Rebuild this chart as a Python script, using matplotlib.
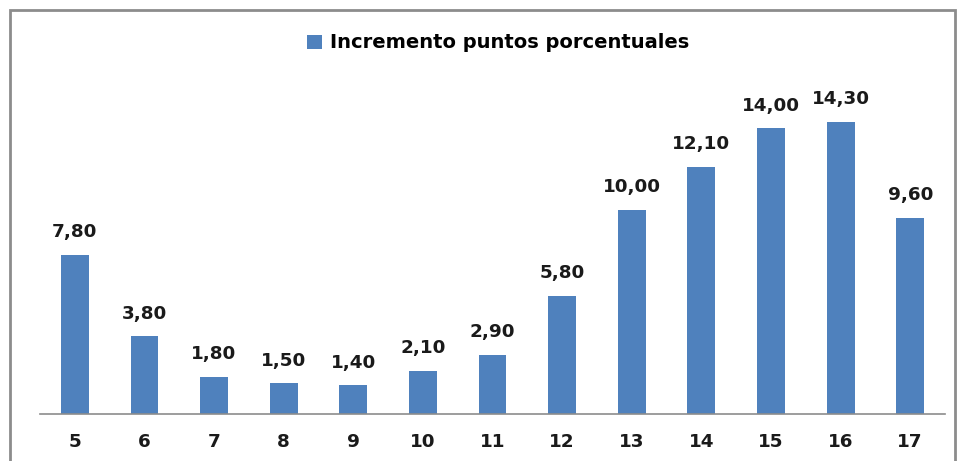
import matplotlib
matplotlib.use("Agg")
import matplotlib.pyplot as plt
from matplotlib.patches import Rectangle

categories = ["5", "6", "7", "8", "9", "10", "11", "12", "13", "14", "15", "16", "17"]
values = [7.80, 3.80, 1.80, 1.50, 1.40, 2.10, 2.90, 5.80, 10.00, 12.10, 14.00, 14.30, 9.60]
series_name = "Incremento puntos porcentuales"

W, H = 958, 461
fig = plt.figure(figsize=(W / 100, H / 100), dpi=100)
fig.patch.set_facecolor("white")

# outer frame (bottom cut off)
frame = Rectangle((10 / W, -0.05), (955 - 10) / W, (H - 10) / H + 0.05,
                  transform=fig.transFigure, fill=False, edgecolor="#8c8c8c",
                  linewidth=2, zorder=0)
fig.patches.append(frame)

ax = fig.add_axes([40 / W, (H - 414) / H, 905 / W, (414 - 40) / H])
x = list(range(len(categories)))
bars = ax.bar(x, values, width=0.40, color="#4F81BD", label=series_name, zorder=2)

ax.set_xlim(-0.5, 12.5)
ax.set_ylim(0, (414 - 40) / 20.4)

for xi, v in zip(x, values):
    ax.annotate(f"{v:.2f}".replace(".", ","), (xi, v), xytext=(0, 10),
                textcoords="offset points", ha="center", va="bottom",
                fontsize=13.2, fontweight="bold", color="#1a1a1a")

ax.set_xticks(x)
ax.set_xticklabels(categories, fontsize=13.2, fontweight="bold", color="#1a1a1a")
ax.tick_params(axis="x", length=0, pad=14)
ax.set_yticks([])
for s in ["top", "right", "left"]:
    ax.spines[s].set_visible(False)
ax.spines["bottom"].set_color("#8c8c8c")
ax.spines["bottom"].set_linewidth(1.2)

leg = fig.legend(handles=[bars], labels=[series_name], loc="center",
                 bbox_to_anchor=(498 / W, 1 - 43 / H), frameon=False,
                 prop={"weight": "bold", "size": 14}, handlelength=0.75,
                 handleheight=0.75, handletextpad=0.4)

fig.savefig("out.png", dpi=100)
